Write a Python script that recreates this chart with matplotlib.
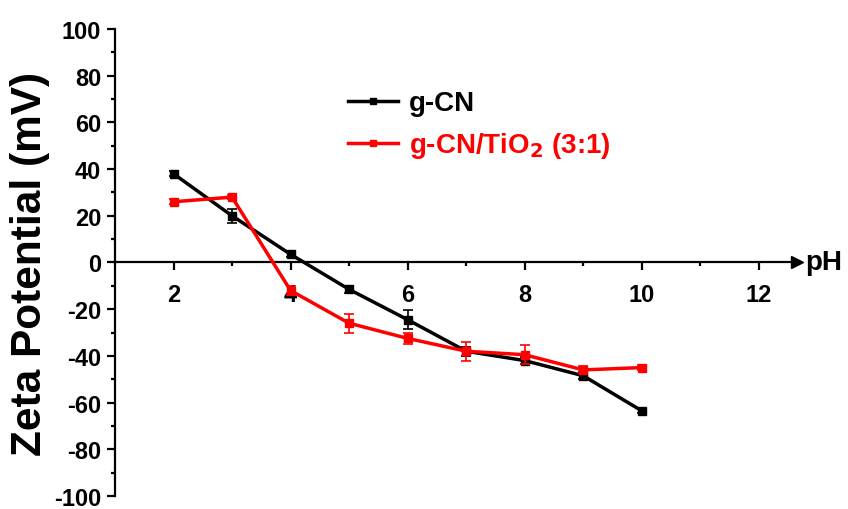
import matplotlib.pyplot as plt
from matplotlib.lines import Line2D

plt.rcParams['font.family'] = ['Liberation Sans', 'DejaVu Sans']
plt.rcParams['font.weight'] = 'bold'
plt.rcParams['axes.unicode_minus'] = False

ph = [2, 3, 4, 5, 6, 7, 8, 9, 10]
zeta_cn = [38, 20, 3.5, -11.5, -24.5, -38, -42, -48.5, -63.5]
err_cn = [1, 3, 1, 1.5, 4, 2, 1.5, 1.5, 1]
zeta_cn_tio2 = [26, 28, -12, -26, -32.5, -38, -39.5, -46, -45]
err_cn_tio2 = [1, 1, 2, 4, 2.5, 4, 4, 1.5, 1]

fig = plt.figure(figsize=(8.48, 5.10), dpi=100)
ax = fig.add_axes([0.1356, 0.0255, 0.804, 0.9157])

ax.errorbar(ph, zeta_cn, yerr=err_cn, color='black', lw=2.5, marker='s', ms=5.5,
            capsize=3.5, elinewidth=1.2, capthick=1.2, zorder=3)
ax.errorbar(ph, zeta_cn_tio2, yerr=err_cn_tio2, color='red', lw=2.5, marker='s', ms=5.5,
            capsize=3.5, elinewidth=1.2, capthick=1.2, zorder=4)

ax.set_xlim(1, 12.65)
ax.set_ylim(-100, 100)

# x axis sits on zero with an arrow head, y axis on the left
ax.spines['top'].set_visible(False)
ax.spines['right'].set_visible(False)
ax.spines['bottom'].set_position(('data', 0))
ax.spines['bottom'].set_linewidth(1.6)
ax.spines['left'].set_linewidth(1.6)
ax.plot(1, 0, '>', color='black', ms=9, transform=ax.get_yaxis_transform(), clip_on=False)
ax.text(1.012, 0.005, 'pH', transform=ax.get_yaxis_transform(), fontsize=20,
        fontweight='bold', va='center', ha='left')

ax.set_xticks([2, 4, 6, 8, 10, 12])
ax.set_xticks([3, 5, 7, 9, 11], minor=True)
ax.set_yticks(range(-100, 101, 20))
ax.set_yticks(range(-90, 100, 20), minor=True)
ax.tick_params(which='major', direction='out', length=6, width=1.6, labelsize=17, pad=4)
ax.tick_params(which='minor', direction='out', length=3, width=1.6)
ax.tick_params(axis='x', which='major', pad=9)
for lbl in ax.get_xticklabels() + ax.get_yticklabels():
    lbl.set_fontweight('bold')

ax.set_ylabel('Zeta Potential (mV)', fontsize=30.5, fontweight='bold', labelpad=3)

handles = [Line2D([], [], color='black', lw=2.5, marker='s', ms=4.5),
           Line2D([], [], color='red', lw=2.5, marker='s', ms=4.5)]
ax.legend(handles, ['g-CN', 'g-CN/TiO$_\\mathbf{2}$ (3:1)'], loc='upper left',
          bbox_to_anchor=(0.305, 0.922), frameon=False, handlelength=1.8,
          labelspacing=0.5, handletextpad=0.4, labelcolor=['black', 'red'],
          prop={'size': 20, 'weight': 'bold'})

fig.savefig('out.png', dpi=100)
